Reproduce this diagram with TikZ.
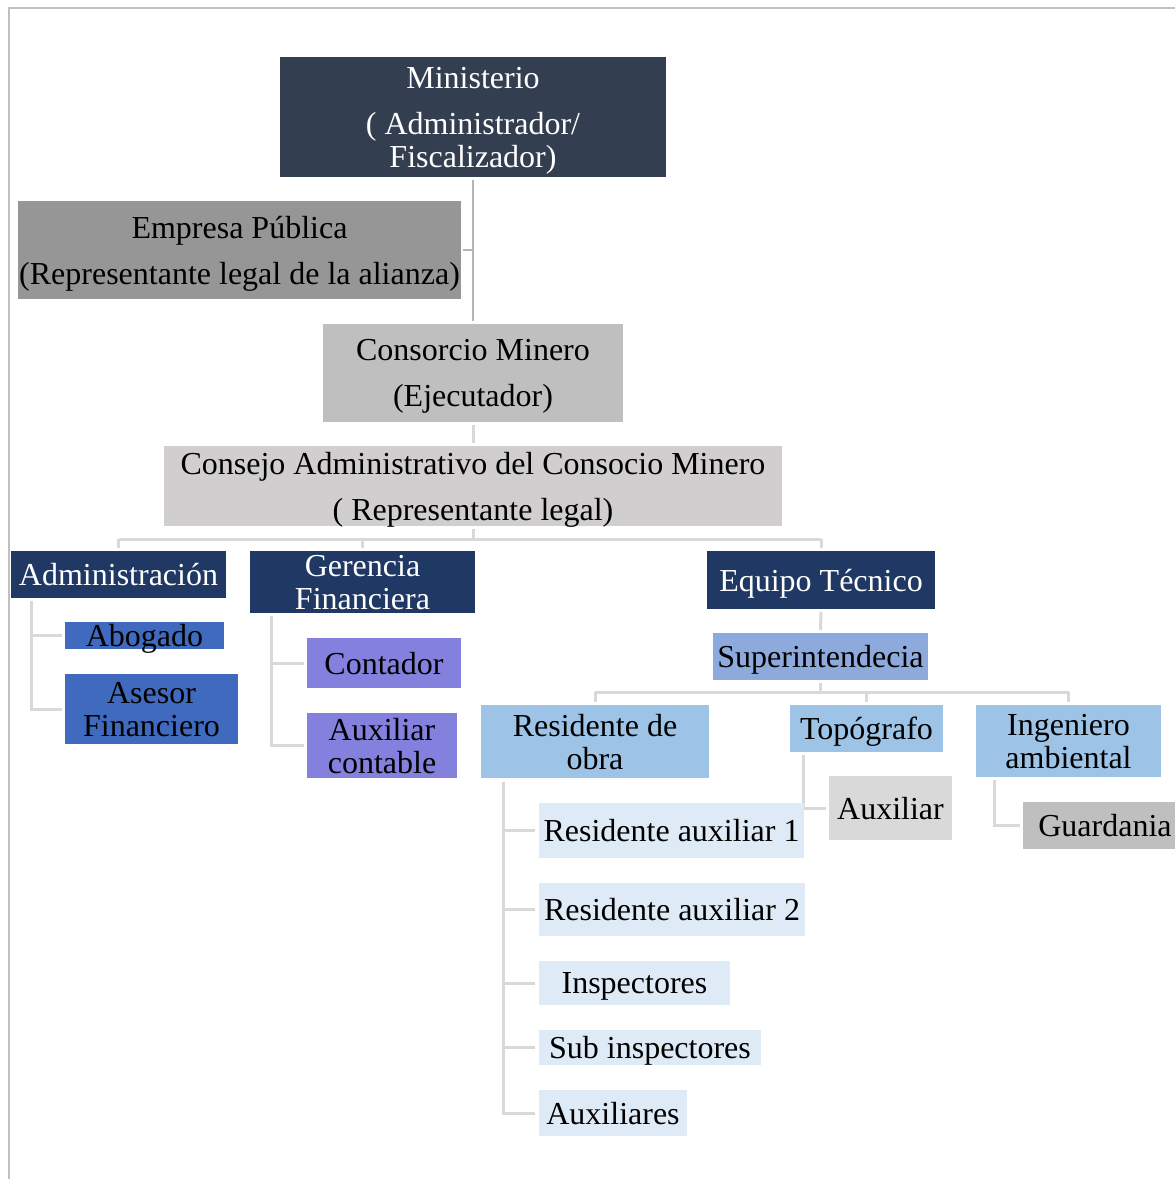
\documentclass[tikz,border=0pt]{standalone}
\usepackage{fontspec}
\setmainfont{Liberation Serif}
\definecolor{cMin}{RGB}{51,63,80}
\definecolor{cEmp}{RGB}{150,150,150}
\definecolor{cCon}{RGB}{191,191,191}
\definecolor{cConse}{RGB}{208,206,206}
\definecolor{cNavy}{RGB}{31,56,100}
\definecolor{cBlue}{RGB}{63,106,189}
\definecolor{cPurp}{RGB}{132,128,222}
\definecolor{cSup}{RGB}{142,169,219}
\definecolor{cLb}{RGB}{157,195,230}
\definecolor{cPale}{RGB}{222,235,247}
\definecolor{cAuxT}{RGB}{217,217,217}
\definecolor{cGua}{RGB}{191,191,191}
\definecolor{lineTop}{RGB}{180,180,180}
\definecolor{lineLow}{RGB}{217,217,217}
\definecolor{frameCol}{RGB}{192,192,192}
\tikzset{
  box/.style={rectangle, inner sep=0pt, outer sep=0pt, draw=none},
  txt/.style={font=\fontsize{32}{33}\selectfont, align=center, inner sep=0pt, text depth=0pt},
  lineA/.style={draw=lineTop, line width=2pt},
  lineB/.style={draw=lineLow, line width=3pt},
}
\newcommand\bx[8]{%
  \pgfmathsetmacro\bxcx{(#2+#4)/2}%
  \pgfmathsetmacro\bxcy{(#3+#5)/2}%
  \pgfmathsetmacro\bxw{#4-#2}%
  \pgfmathsetmacro\bxh{#5-#3}%
  \node[box, fill=#6, minimum width=\bxw pt, minimum height=\bxh pt,
        label={[txt,text=#8]center:{#7}}] (#1) at (\bxcx,\bxcy) {};}
\begin{document}
\begin{tikzpicture}[x=1pt,y=-1pt]
\useasboundingbox (0,0) rectangle (1175,1179);
% frame
\draw[frameCol, line width=2pt] (1180,8) -- (9,8) -- (9,1185);

% boxes
\bx{min}{280}{57}{666}{177}{cMin}{Ministerio\\[13pt]( Administrador/\\Fiscalizador)}{white}
\bx{emp}{18}{201}{461}{299}{cEmp}{Empresa Pública\\[13pt](Representante legal de la alianza)}{black}
\bx{cons}{323}{324}{623}{422}{cCon}{Consorcio Minero\\[13pt](Ejecutador)}{black}
\bx{conse}{164}{446}{782}{526}{cConse}{Consejo Administrativo del Consocio Minero\\[13pt]( Representante legal)}{black}
\bx{adm}{11}{551}{226}{598}{cNavy}{Administración}{white}
\bx{ger}{250}{551}{475}{613}{cNavy}{Gerencia\\Financiera}{white}
\bx{equ}{707}{551}{935}{609}{cNavy}{Equipo Técnico}{white}
\bx{abo}{65}{622}{224}{649}{cBlue}{Abogado}{black}
\bx{ase}{65}{674}{238}{744}{cBlue}{Asesor\\Financiero}{black}
\bx{cont}{307}{638}{461}{688}{cPurp}{Contador}{black}
\bx{auxc}{307}{713}{457}{778}{cPurp}{Auxiliar\\contable}{black}
\bx{sup}{713}{633}{928}{680}{cSup}{Superintendecia}{black}
\bx{res}{481}{705}{709}{778}{cLb}{Residente de\\obra}{black}
\bx{top}{790}{705}{943}{752}{cLb}{Topógrafo}{black}
\bx{ing}{976}{705}{1161}{777}{cLb}{Ingeniero\\ambiental}{black}

% connectors (drawn before boxes that overlap them)
\draw[lineA, shorten <=3pt, shorten >=3pt] (min.south) -- (cons.north);
\draw[lineA] ([xshift=2pt]emp.east) -- (emp.east -| min.south);
\draw[lineB, shorten <=3pt, shorten >=3pt] (cons.south) -- (conse.north);
\coordinate (busA) at ([yshift=-13pt]conse.south);
\draw[lineB, shorten <=3pt] (conse.south) -- (busA);
\draw[lineB] (adm.north |- busA) -- (equ.north |- busA);
\draw[lineB, shorten >=3pt] (adm.north |- busA) -- (adm.north);
\draw[lineB, shorten >=3pt] (ger.north |- busA) -- (ger.north);
\draw[lineB, shorten >=3pt] (equ.north |- busA) -- (equ.north);
\coordinate (admT) at ([xshift=20pt,yshift=-3pt]adm.south west);
\draw[lineB] (admT) |- ([xshift=-3pt]abo.west);
\draw[lineB] (admT) |- ([xshift=-3pt]ase.west);
\coordinate (gerT) at ([xshift=21pt,yshift=-3pt]ger.south west);
\draw[lineB] (gerT) |- ([xshift=-3pt]cont.west);
\draw[lineB] (gerT) |- ([xshift=-3pt]auxc.west);
\draw[lineB, shorten <=3pt, shorten >=3pt] (equ.south) -- (sup.north);
\coordinate (busB) at ([yshift=-12pt]sup.south);
\draw[lineB, shorten <=3pt] (sup.south) -- (busB);
\draw[lineB] (res.north |- busB) -- (ing.north |- busB);
\draw[lineB, shorten >=3pt] (res.north |- busB) -- (res.north);
\draw[lineB, shorten >=3pt] (top.north |- busB) -- (top.north);
\draw[lineB, shorten >=3pt] (ing.north |- busB) -- (ing.north);

% lower boxes
\bx{axt}{829}{776}{952}{840}{cAuxT}{Auxiliar}{black}
\bx{gua}{1023}{802}{1187}{849}{cGua}{Guardania}{black}
\coordinate (topT) at ([xshift=13pt,yshift=-3pt]top.south west);
\draw[lineB] (topT) |- ([xshift=-3pt]axt.west);
\coordinate (ingT) at ([xshift=18pt,yshift=-3pt]ing.south west);
\draw[lineB] (ingT) |- ([xshift=-3pt]gua.west);

\bx{ra1}{539}{803}{804}{858}{cPale}{Residente auxiliar 1}{black}
\bx{ra2}{539}{883}{805}{936}{cPale}{Residente auxiliar 2}{black}
\bx{ins}{539}{961}{730}{1005}{cPale}{Inspectores}{black}
\bx{sub}{539}{1030}{761}{1065}{cPale}{Sub inspectores}{black}
\bx{auxs}{539}{1090}{687}{1136}{cPale}{Auxiliares}{black}
\coordinate (resT) at ([xshift=22pt,yshift=-4pt]res.south west);
\draw[lineB] (resT) |- ([xshift=-4pt]ra1.west);
\draw[lineB] (resT) |- ([xshift=-4pt]ra2.west);
\draw[lineB] (resT) |- ([xshift=-4pt]ins.west);
\draw[lineB] (resT) |- ([xshift=-4pt]sub.west);
\draw[lineB] (resT) |- ([xshift=-4pt]auxs.west);
\end{tikzpicture}
\end{document}
